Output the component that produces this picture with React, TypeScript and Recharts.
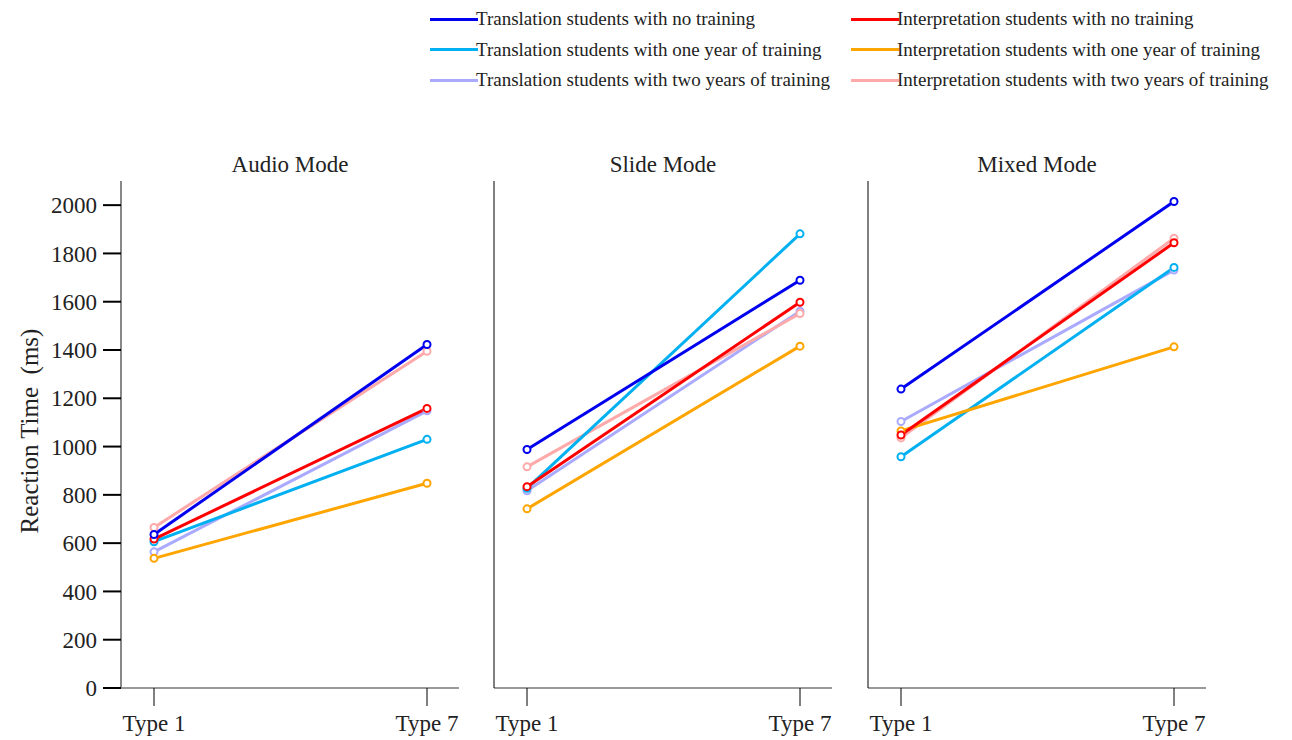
import React from 'react';
import { LineChart, Line, XAxis, YAxis } from 'recharts';

const types = ['Type 1', 'Type 7'];
const yTicks = [0, 200, 400, 600, 800, 1000, 1200, 1400, 1600, 1800, 2000];

const seriesNames = [
  'Translation students with no training',
  'Translation students with one year of training',
  'Translation students with two years of training',
  'Interpretation students with no training',
  'Interpretation students with one year of training',
  'Interpretation students with two years of training',
];
const seriesColors = ['#0000ee', '#00b0f0', '#aaaaff', '#ff0000', '#ffa500', '#ffaaaa'];
// drawing order (last drawn on top)
const drawOrder = [2, 5, 1, 4, 3, 0];

// values per series, [Type 1, Type 7], same order as seriesNames
const audioValues = [
  [636, 1423],
  [606, 1030],
  [564, 1148],
  [617, 1158],
  [537, 848],
  [665, 1395],
];
const slideValues = [
  [988, 1689],
  [827, 1881],
  [817, 1561],
  [834, 1598],
  [742, 1416],
  [916, 1551],
];
const mixedValues = [
  [1238, 2015],
  [958, 1742],
  [1104, 1731],
  [1048, 1844],
  [1065, 1413],
  [1036, 1863],
];

const panels = [
  { title: 'Audio Mode', values: audioValues, left: 0, axisW: 121 },
  { title: 'Slide Mode', values: slideValues, left: 373, axisW: 121 },
  { title: 'Mixed Mode', values: mixedValues, left: 747, axisW: 121 },
];

const font = '"Liberation Serif", "Times New Roman", serif';
const textColor = '#222';

const toRows = (values: number[][]) =>
  types.map((t, i) => {
    const row: Record<string, string | number> = { type: t };
    values.forEach((v, s) => {
      row[`s${s}`] = v[i];
    });
    return row;
  });

function Panel({ title, values, left, axisW, first }: any) {
  const data = toRows(values);
  const plotW = 338;
  return (
    <div style={{ position: 'absolute', left, top: 0 }}>
      <div
        style={{
          position: 'absolute',
          left: axisW,
          width: plotW,
          top: 151,
          lineHeight: '28px',
          textAlign: 'center',
          fontFamily: font,
          fontSize: 23,
          color: textColor,
        }}
      >
        {title}
      </div>
      <LineChart
        width={axisW + plotW}
        height={740}
        data={data}
        margin={{ top: 181, right: 0, bottom: 0, left: 0 }}
      >
        <XAxis
          dataKey="type"
          height={52}
          padding={{ left: 33, right: 32 }}
          tickSize={18}
          tickMargin={9}
          axisLine={{ stroke: '#999', strokeWidth: 2 }}
          tickLine={{ stroke: '#000' }}
          tick={{ fontFamily: font, fontSize: 23, fill: textColor }}
        />
        <YAxis
          width={axisW}
          domain={[0, 2100]}
          ticks={yTicks}
          tickSize={first ? 18 : 0}
          tickMargin={6}
          tick={first ? { fontFamily: font, fontSize: 23, fill: textColor } : false}
          axisLine={{ stroke: first ? '#888' : '#000', strokeWidth: first ? 2 : 1 }}
          tickLine={{ stroke: '#000', strokeWidth: 2 }}
        />
        {drawOrder.map((s) => (
          <Line
            key={s}
            type="linear"
            dataKey={`s${s}`}
            stroke={seriesColors[s]}
            strokeWidth={3}
            dot={{ r: 3.5, stroke: seriesColors[s], strokeWidth: 2, fill: '#fff' }}
            isAnimationActive={false}
          />
        ))}
      </LineChart>
    </div>
  );
}

function Legend() {
  return (
    <div style={{ position: 'absolute', left: 0, top: 0 }}>
      {seriesNames.map((name, i) => {
        const col = i < 3 ? 0 : 1;
        const row = i % 3;
        const x = col === 0 ? 430 : 851;
        const y = 19 + row * 30.5;
        return (
          <div
            key={name}
            style={{ position: 'absolute', left: x, top: y - 12, height: 24, whiteSpace: 'nowrap' }}
          >
            <div
              style={{
                position: 'absolute',
                left: 0,
                top: 10.5,
                width: 48,
                height: 3,
                background: seriesColors[i],
              }}
            />
            <div
              style={{
                position: 'absolute',
                left: 46,
                top: 0,
                fontFamily: font,
                fontSize: 19,
                lineHeight: '24px',
                color: textColor,
              }}
            >
              {name}
            </div>
          </div>
        );
      })}
    </div>
  );
}

export default function App() {
  return (
    <div
      style={{
        position: 'absolute',
        left: 0,
        top: 0,
        width: 1292,
        height: 740,
        background: '#fff',
        overflow: 'hidden',
      }}
    >
      <Legend />
      {panels.map((p, i) => (
        <Panel key={p.title} {...p} first={i === 0} />
      ))}
      <div
        style={{
          position: 'absolute',
          left: 30,
          top: 431,
          transform: 'translate(-50%, -50%) rotate(-90deg)',
          whiteSpace: 'pre',
          fontFamily: font,
          fontSize: 25,
          color: textColor,
        }}
      >
        {'Reaction Time  (ms)'}
      </div>
    </div>
  );
}
